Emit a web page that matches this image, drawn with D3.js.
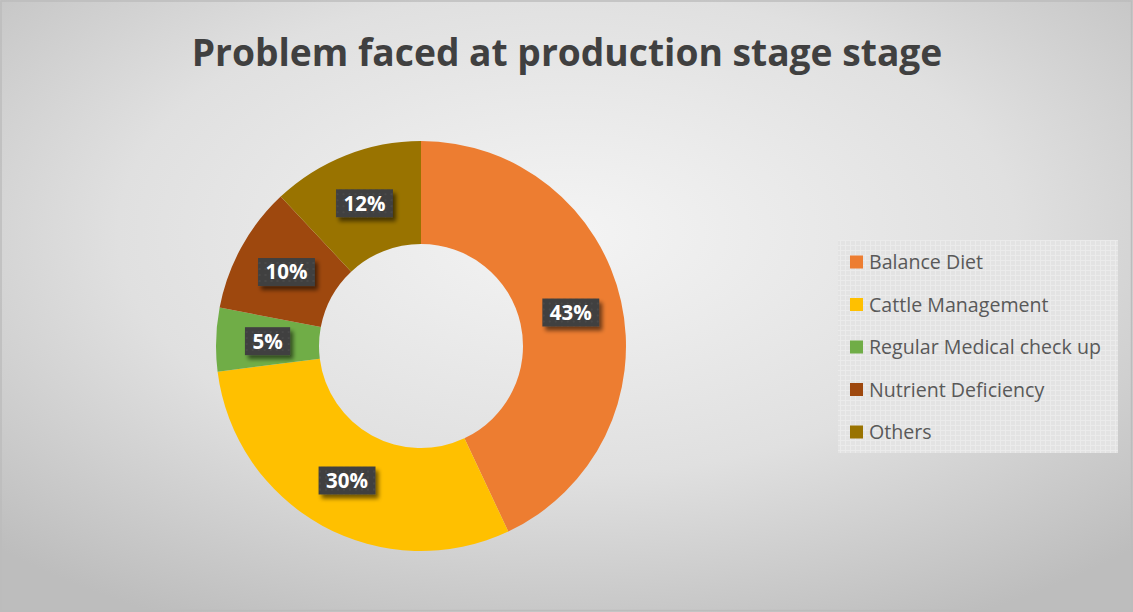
<!DOCTYPE html>
<html>
<head>
<meta charset="utf-8">
<script src="https://cdn.jsdelivr.net/npm/d3@7"></script>
<style>
  html, body { margin: 0; padding: 0; background: #ffffff; }
  svg { display: block; }
</style>
</head>
<body>
<svg id="chart" width="1133" height="612"></svg>
<script>
// Problems reported at the production stage (share of respondents, %)
const categories = ["Balance Diet", "Cattle Management", "Regular Medical check up", "Nutrient Deficiency", "Others"];
const values = [43, 30, 5, 10, 12];
const colors = ["#ED7D31", "#FFC000", "#70AD47", "#9E480E", "#997300"];
const chartTitle = "Problem faced at production stage stage";

const W = 1133, H = 612;
const svg = d3.select("#chart");
const defs = svg.append("defs");

// soft radial backdrop
const bg = defs.append("radialGradient").attr("id", "bgGrad")
  .attr("cx", "50%").attr("cy", "38%").attr("r", "72%");
bg.append("stop").attr("offset", "0%").attr("stop-color", "#f4f4f4");
bg.append("stop").attr("offset", "55%").attr("stop-color", "#e0e0e0");
bg.append("stop").attr("offset", "100%").attr("stop-color", "#bdbdbd");

// fine grid texture for the legend panel
const grid = defs.append("pattern").attr("id", "legendGrid")
  .attr("width", 5).attr("height", 5).attr("patternUnits", "userSpaceOnUse");
grid.append("rect").attr("width", 5).attr("height", 5).attr("fill", "#e3e3e3");
grid.append("path").attr("d", "M0 0.5H5M0.5 0V5").attr("stroke", "#ebebeb").attr("stroke-width", 1);

// dotted texture for data label boxes
const dots = defs.append("pattern").attr("id", "labelDots")
  .attr("width", 6).attr("height", 6).attr("patternUnits", "userSpaceOnUse");
dots.append("rect").attr("width", 6).attr("height", 6).attr("fill", "#404040");
dots.append("circle").attr("cx", 3).attr("cy", 3).attr("r", 1).attr("fill", "#4a4a4a");

const shadow = defs.append("filter").attr("id", "boxShadow")
  .attr("x", "-30%").attr("y", "-30%").attr("width", "170%").attr("height", "180%");
shadow.append("feGaussianBlur").attr("in", "SourceAlpha").attr("stdDeviation", 2.2);
shadow.append("feOffset").attr("dx", 3).attr("dy", 4).attr("result", "off");
shadow.append("feComponentTransfer").append("feFuncA").attr("type", "linear").attr("slope", 0.55);
const merge = shadow.append("feMerge");
merge.append("feMergeNode");
merge.append("feMergeNode").attr("in", "SourceGraphic");

svg.append("rect").attr("x", 0).attr("y", 0).attr("width", W).attr("height", H)
  .attr("fill", "url(#bgGrad)");
svg.append("rect").attr("x", 1).attr("y", 1).attr("width", W - 2.5).attr("height", H - 2.5)
  .attr("fill", "none").attr("stroke", "#bcbcbc").attr("stroke-width", 1.5);

// title, fitted to its width
const title = svg.append("text")
  .attr("x", 567).attr("y", 66)
  .attr("text-anchor", "middle")
  .attr("font-family", "'Open Sans', 'DejaVu Sans', sans-serif")
  .attr("font-weight", 700)
  .attr("font-size", 40)
  .attr("fill", "#404040")
  .text(chartTitle);
const tw = title.node().getComputedTextLength();
title.attr("font-size", 40 * 751 / tw);

// donut
const cx = 421, cy = 346, outerR = 205, innerR = 102;
const pie = d3.pie().value(d => d.value).sort(null);
const arc = d3.arc().innerRadius(innerR).outerRadius(outerR);
const data = categories.map((c, i) => ({ name: c, value: values[i], color: colors[i] }));
const arcs = pie(data);

const g = svg.append("g").attr("transform", `translate(${cx},${cy})`);
g.selectAll("path.slice").data(arcs).join("path")
  .attr("class", "slice")
  .attr("d", arc)
  .attr("fill", d => d.data.color);

// value labels in dark boxes
const lbl = g.selectAll("g.lbl").data(arcs).join("g")
  .attr("class", "lbl")
  .attr("transform", d => `translate(${arc.centroid(d)})`);
lbl.each(function (d) {
  const s = d3.select(this);
  const txt = d.data.value + "%";
  const t = s.append("text")
    .attr("text-anchor", "middle").attr("dy", "0.36em")
    .attr("font-family", "'Open Sans', 'DejaVu Sans', sans-serif")
    .attr("font-weight", 700).attr("font-size", 20.5)
    .attr("fill", "#ffffff").text(txt);
  const w = t.node().getComputedTextLength() + 15;
  s.insert("rect", "text")
    .attr("x", -w / 2).attr("y", -14).attr("width", w).attr("height", 28)
    .attr("fill", "url(#labelDots)")
    .attr("filter", "url(#boxShadow)");
});

// legend
const lx = 838, ly = 240, lw = 280, lh = 213;
svg.append("rect").attr("x", lx).attr("y", ly).attr("width", lw).attr("height", lh)
  .attr("fill", "url(#legendGrid)");
const rowY = d3.scalePoint().domain(categories).range([262, 432]);
const leg = svg.append("g").selectAll("g").data(data).join("g")
  .attr("transform", d => `translate(850,${rowY(d.name)})`);
leg.append("rect").attr("x", 0).attr("y", -6.5).attr("width", 13).attr("height", 13)
  .attr("fill", d => d.color);
const legText = leg.append("text").attr("x", 19).attr("dy", "0.36em")
  .attr("font-family", "'Open Sans', 'DejaVu Sans', sans-serif")
  .attr("font-size", 18).attr("fill", "#595959")
  .text(d => d.name);
// size legend text so the longest entry spans the panel like the original
const longest = d3.max(legText.nodes(), n => n.getComputedTextLength());
legText.attr("font-size", 18 * 232 / longest);
</script>
</body>
</html>
